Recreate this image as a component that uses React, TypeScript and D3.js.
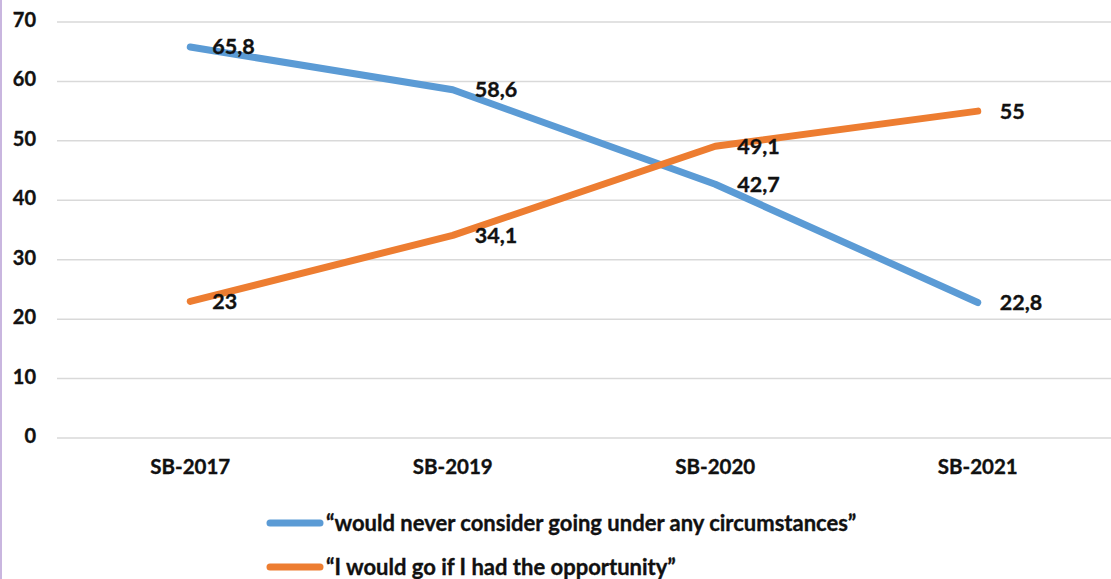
import React, { useEffect, useRef } from 'react';
import * as d3 from 'd3';

const categories = ['SB-2017', 'SB-2019', 'SB-2020', 'SB-2021'];
const neverValues = [65.8, 58.6, 42.7, 22.8];
const wouldGoValues = [23, 34.1, 49.1, 55];
const seriesNames = [
  '\u201cwould never consider going under any circumstances\u201d',
  '\u201cI would go if I had the opportunity\u201d',
];
const yTicks = [0, 10, 20, 30, 40, 50, 60, 70];

const fmt = (v: number) => String(v).replace('.', ',');

export default function App() {
  const svgRef = useRef<SVGSVGElement>(null);

  useEffect(() => {
    if (!svgRef.current) return;
    const width = 1111;
    const height = 579;
    const font = 'Lato, "Open Sans", sans-serif';

    const svg = d3.select(svgRef.current);
    svg.selectAll('*').remove();
    svg.attr('width', width).attr('height', height);

    svg.append('rect').attr('width', width).attr('height', height).attr('fill', '#ffffff');
    // thin lavender edge on the left
    svg.append('rect').attr('x', 0).attr('y', 0).attr('width', 2).attr('height', height).attr('fill', '#c9b6df');

    const x = d3.scaleBand<string>().domain(categories).range([59, 1109]);
    const y = d3.scaleLinear().domain([0, 70]).range([438, 22]);
    const cx = (c: string) => (x(c) || 0) + x.bandwidth() / 2;

    const boldText = (sel: any, size: number) =>
      sel
        .attr('font-family', font)
        .attr('font-weight', 'bold')
        .attr('font-size', `${size}px`)
        .attr('fill', '#111')
        .attr('stroke', '#111')
        .attr('stroke-width', 0.35);

    // gridlines
    svg.append('g')
      .selectAll('line')
      .data(yTicks)
      .enter()
      .append('line')
      .attr('x1', 57)
      .attr('x2', 1111)
      .attr('y1', d => y(d))
      .attr('y2', d => y(d))
      .attr('stroke', '#d9d9d9')
      .attr('stroke-width', 1.5);

    // y tick labels
    svg.append('g')
      .selectAll('text')
      .data(yTicks)
      .enter()
      .append('text')
      .attr('x', 36)
      .attr('y', d => y(d) - 2)
      .attr('dy', '0.35em')
      .attr('text-anchor', 'end')
      .call(boldText, 20)
      .text(d => d);

    // category labels
    svg.append('g')
      .selectAll('text')
      .data(categories)
      .enter()
      .append('text')
      .attr('x', d => cx(d))
      .attr('y', 467)
      .attr('dy', '0.35em')
      .attr('text-anchor', 'middle')
      .call(boldText, 20.5)
      .text(d => d);

    const series = [
      { name: seriesNames[0], values: neverValues, color: '#5b9bd5' },
      { name: seriesNames[1], values: wouldGoValues, color: '#ed7d31' },
    ];

    const line = d3.line<number>()
      .x((_, i) => cx(categories[i]))
      .y(d => y(d));

    series.forEach(s => {
      svg.append('path')
        .datum(s.values)
        .attr('d', line)
        .attr('fill', 'none')
        .attr('stroke', s.color)
        .attr('stroke-width', 7)
        .attr('stroke-linecap', 'round')
        .attr('stroke-linejoin', 'round');
    });

    // data labels, placed to the right of each point
    series.forEach(s => {
      svg.append('g')
        .selectAll('text')
        .data(s.values)
        .enter()
        .append('text')
        .attr('x', (_, i) => cx(categories[i]) + 22)
        .attr('y', d => y(d))
        .attr('dy', '0.35em')
        .call(boldText, 21.5)
        .text(d => fmt(d));
    });

    // legend
    const legend = svg.append('g');
    series.forEach((s, i) => {
      const ly = 523 + i * 44;
      legend.append('line')
        .attr('x1', 270)
        .attr('x2', 320)
        .attr('y1', ly)
        .attr('y2', ly)
        .attr('stroke', s.color)
        .attr('stroke-width', 7)
        .attr('stroke-linecap', 'round');
      legend.append('text')
        .attr('x', 326)
        .attr('y', ly)
        .attr('dy', '0.35em')
        .call(boldText, 22)
        .text(s.name);
    });
  }, []);

  return (
    <div style={{ position: 'absolute', left: 0, top: 0 }}>
      <svg ref={svgRef} style={{ display: 'block' }}></svg>
    </div>
  );
}
